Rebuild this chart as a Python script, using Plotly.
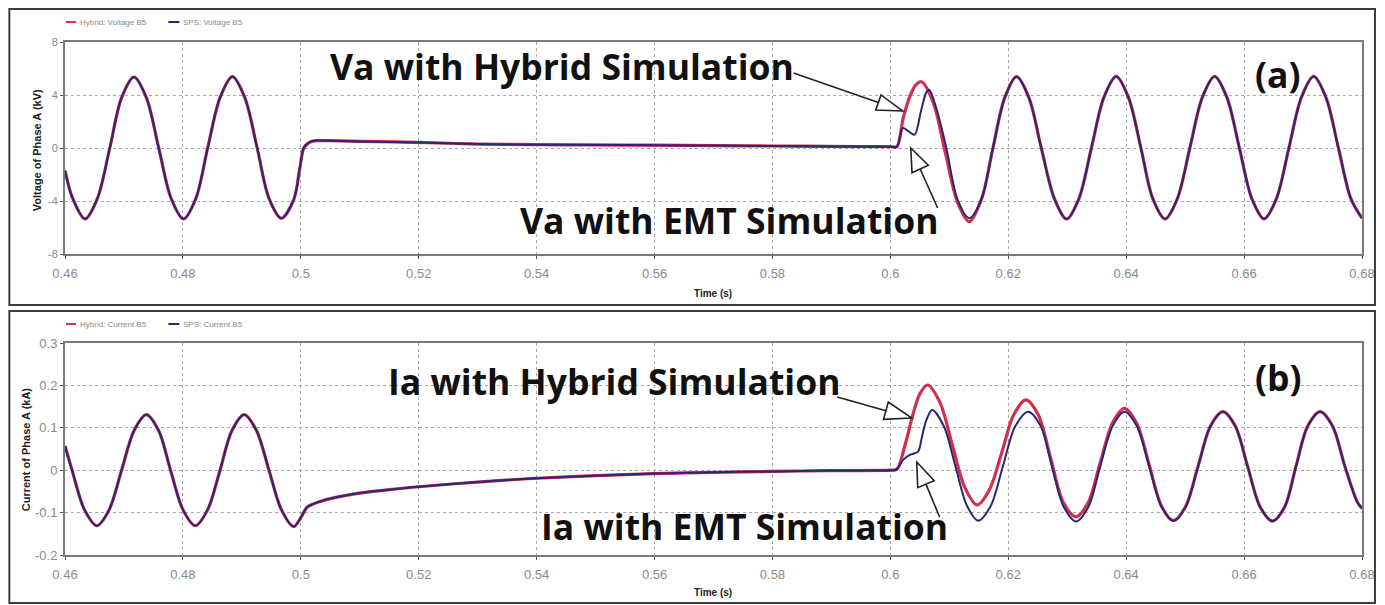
import plotly.graph_objects as go

# ---------------- data ----------------
# Phase A voltage (kV), common part before the fault clears (both simulations)
v_pre_t = [0.46, 0.4613, 0.4634, 0.4655, 0.4676, 0.4696, 0.4717, 0.4738, 0.4759, 0.4780,
           0.4801, 0.4822, 0.4842, 0.4863, 0.4884, 0.4905, 0.4926, 0.4946, 0.4967, 0.4988,
           0.4998, 0.5005, 0.5012, 0.5020, 0.5030, 0.5050, 0.510, 0.520, 0.530, 0.540,
           0.550, 0.560, 0.570, 0.580, 0.590, 0.600]
v_pre = [-1.7, -3.8, -5.35, -3.8, 0.0, 3.8, 5.35, 3.8, 0.0, -3.8,
         -5.35, -3.8, 0.0, 3.8, 5.38, 3.8, 0.0, -3.8, -5.3, -3.9,
         -1.6, 0.0, 0.35, 0.52, 0.56, 0.55, 0.50, 0.42, 0.30, 0.25,
         0.23, 0.21, 0.18, 0.15, 0.12, 0.10]

# after 0.6 s - hybrid simulation
v_hyb_t = [0.6011, 0.6022, 0.6034, 0.6044, 0.6053, 0.6073, 0.6093, 0.6114, 0.6134, 0.6155,
           0.6174, 0.6194, 0.6214, 0.6235, 0.6256, 0.6278, 0.6299, 0.6320, 0.6341, 0.6362,
           0.6383, 0.6404, 0.6425, 0.6445, 0.6466, 0.6487, 0.6508, 0.6529, 0.6550, 0.6571,
           0.6592, 0.6613, 0.6634, 0.6655, 0.6676, 0.6697, 0.6718, 0.6739, 0.6760, 0.6781, 0.6800]
v_hyb = [0.1, 2.3, 4.0, 4.8, 5.0, 3.4, -0.3, -4.1, -5.56, -3.8,
         0.0, 3.8, 5.38, 3.8, 0.0, -3.8, -5.36, -3.8, 0.0, 3.8,
         5.4, 3.8, 0.0, -3.8, -5.35, -3.8, 0.0, 3.8, 5.4, 3.8,
         0.0, -3.8, -5.35, -3.8, 0.0, 3.8, 5.4, 3.8, 0.0, -3.8, -5.3]

# after 0.6 s - EMT simulation
v_emt_t = [0.6011, 0.6021, 0.6030, 0.6041, 0.6052, 0.6061, 0.6066, 0.6078, 0.6095, 0.6114,
           0.6134, 0.6155, 0.6174, 0.6194, 0.6214, 0.6235, 0.6256, 0.6278, 0.6299, 0.6320,
           0.6341, 0.6362, 0.6383, 0.6404, 0.6425, 0.6445, 0.6466, 0.6487, 0.6508, 0.6529,
           0.6550, 0.6571, 0.6592, 0.6613, 0.6634, 0.6655, 0.6676, 0.6697, 0.6718, 0.6739,
           0.6760, 0.6781, 0.6800]
v_emt = [0.1, 1.5, 1.3, 1.0, 2.8, 4.2, 4.4, 3.0, 0.0, -3.9,
         -5.3, -3.8, 0.0, 3.8, 5.38, 3.8, 0.0, -3.8, -5.36, -3.8,
         0.0, 3.8, 5.4, 3.8, 0.0, -3.8, -5.35, -3.8, 0.0, 3.8,
         5.4, 3.8, 0.0, -3.8, -5.35, -3.8, 0.0, 3.8, 5.4, 3.8,
         0.0, -3.8, -5.3]

# Phase A current (kA), common part
i_pre_t = [0.46, 0.4612, 0.4633, 0.4654, 0.4675, 0.4696, 0.4717, 0.4738, 0.4759, 0.4779,
           0.4800, 0.4821, 0.4842, 0.4863, 0.4883, 0.4904, 0.4925, 0.4946, 0.4967, 0.4988,
           0.5000, 0.5010, 0.5017, 0.5030, 0.5050, 0.510, 0.515, 0.520, 0.530, 0.540,
           0.550, 0.560, 0.570, 0.580, 0.590, 0.600]
i_pre = [0.057, 0.0, -0.093, -0.131, -0.093, 0.0, 0.093, 0.131, 0.093, 0.0,
         -0.093, -0.131, -0.093, 0.0, 0.093, 0.131, 0.093, 0.0, -0.093, -0.133,
         -0.112, -0.088, -0.082, -0.075, -0.067, -0.054, -0.046, -0.039, -0.028, -0.019,
         -0.013, -0.008, -0.005, -0.003, -0.001, 0.0]

i_hyb_t = [0.6011, 0.6025, 0.6038, 0.6050, 0.6063, 0.6084, 0.6105, 0.6126, 0.6147, 0.6168,
           0.6189, 0.6209, 0.6230, 0.6251, 0.6272, 0.6293, 0.6315, 0.6336, 0.6356, 0.6377,
           0.6397, 0.6418, 0.6439, 0.6460, 0.6480, 0.6501, 0.6522, 0.6543, 0.6564, 0.6585,
           0.6606, 0.6627, 0.6648, 0.6669, 0.6688, 0.6708, 0.6729, 0.6750, 0.6771, 0.6792, 0.6800]
i_hyb = [0.002, 0.06, 0.13, 0.18, 0.201, 0.16, 0.06, -0.04, -0.082, -0.046,
         0.042, 0.13, 0.166, 0.13, 0.028, -0.075, -0.11, -0.075, 0.018, 0.112,
         0.146, 0.11, 0.013, -0.085, -0.119, -0.085, 0.01, 0.104, 0.138, 0.104,
         0.009, -0.086, -0.12, -0.086, 0.009, 0.104, 0.138, 0.104, 0.009, -0.075, -0.09]

i_emt_t = [0.6011, 0.6022, 0.6033, 0.6047, 0.6053, 0.6061, 0.6071, 0.6091, 0.6110, 0.6130,
           0.6149, 0.6170, 0.6191, 0.6212, 0.6234, 0.6255, 0.6274, 0.6294, 0.6315, 0.6336,
           0.6356, 0.6377, 0.6397, 0.6418, 0.6439, 0.6460, 0.6480, 0.6501, 0.6522, 0.6543,
           0.6564, 0.6585, 0.6606, 0.6627, 0.6648, 0.6669, 0.6688, 0.6708, 0.6729, 0.6750,
           0.6771, 0.6792, 0.6800]
i_emt = [0.002, 0.025, 0.036, 0.044, 0.075, 0.118, 0.142, 0.103, 0.011, -0.084,
         -0.119, -0.085, 0.01, 0.104, 0.138, 0.104, 0.009, -0.086, -0.121, -0.086,
         0.009, 0.104, 0.138, 0.104, 0.009, -0.086, -0.12, -0.086, 0.009, 0.104,
         0.138, 0.104, 0.009, -0.086, -0.12, -0.086, 0.009, 0.104, 0.138, 0.104,
         0.009, -0.075, -0.09]

x_ticks = [0.46, 0.48, 0.50, 0.52, 0.54, 0.56, 0.58, 0.60, 0.62, 0.64, 0.66, 0.68]
x_tick_labels = ["0.46", "0.48", "0.5", "0.52", "0.54", "0.56", "0.58", "0.6", "0.62", "0.64", "0.66", "0.68"]
v_ticks = [-8, -4, 0, 4, 8]
v_tick_labels = ["-8", "-4", "0", "4", "8"]
i_ticks = [-0.2, -0.1, 0, 0.1, 0.2, 0.3]
i_tick_labels = ["-0.2", "-0.1", "0", "0.1", "0.2", "0.3"]

# ---------------- layout helpers ----------------
# page body has an 8px margin and only ~1377px of width is visible
OFF = 8
VIS_W = 1377
W, H = VIS_W - OFF, 605 - OFF
LEFT, RIGHT = 65, 1362          # plot area edges on screen
KX = (RIGHT - LEFT) / 1305.0    # horizontal squeeze relative to the reference
ML, MR, MT = LEFT - OFF, (OFF + W) - RIGHT, 42 - OFF
MB = (H + OFF) - 555
PW, PH = W - ML - MR, H - MT - MB


def sx(x):  # reference pixel x -> screen pixel x
    return LEFT + (x - LEFT) * KX


def px(x):  # reference pixel x -> paper
    return (sx(x) - OFF - ML) / PW


def py(y):  # screen pixel y -> paper
    return (H - MB - (y - OFF)) / PH


RED = "#d0304e"
BLUE = "#2a2672"

fig = go.Figure()
fig.add_trace(go.Scatter(x=v_pre_t + v_hyb_t, y=v_pre + v_hyb, mode="lines",
                         line=dict(color=RED, width=3.2, shape="spline", smoothing=0.9),
                         xaxis="x", yaxis="y", name="Hybrid: Voltage B5", showlegend=False))
fig.add_trace(go.Scatter(x=v_pre_t + v_emt_t, y=v_pre + v_emt, mode="lines",
                         line=dict(color=BLUE, width=2.0, shape="spline", smoothing=0.9),
                         xaxis="x", yaxis="y", name="SPS: Voltage B5", showlegend=False))
fig.add_trace(go.Scatter(x=i_pre_t + i_hyb_t, y=i_pre + i_hyb, mode="lines",
                         line=dict(color=RED, width=3.2, shape="spline", smoothing=0.9),
                         xaxis="x2", yaxis="y2", name="Hybrid: Current B5", showlegend=False))
fig.add_trace(go.Scatter(x=i_pre_t + i_emt_t, y=i_pre + i_emt, mode="lines",
                         line=dict(color=BLUE, width=2.0, shape="spline", smoothing=0.9),
                         xaxis="x2", yaxis="y2", name="SPS: Current B5", showlegend=False))

top_dom = [py(254), py(42)]
bot_dom = [py(555), py(343)]

common_x = dict(range=[0.46, 0.68], tickvals=x_ticks, ticktext=x_tick_labels,
                showgrid=True, gridcolor="#a8a8a8", griddash="dot", gridwidth=1,
                showline=True, linecolor="#7a7a7a", linewidth=2, mirror=True,
                ticks="outside", ticklen=3, tickcolor="#555",
                tickfont=dict(family="Liberation Sans", size=13, color="#8a8a8a"),
                zeroline=False, domain=[0, 1], ticklabelstandoff=3, ticklabeloverflow="allow")
common_y = dict(showgrid=True, gridcolor="#a8a8a8", griddash="dot", gridwidth=1,
                showline=True, linecolor="#7a7a7a", linewidth=2, mirror=True,
                ticks="outside", ticklen=3, tickcolor="#555", zeroline=False)

fig.update_layout(
    width=W, height=H, margin=dict(l=ML, r=MR, t=MT, b=MB, autoexpand=False),
    paper_bgcolor="white", plot_bgcolor="white", showlegend=False,
    xaxis=dict(anchor="y", **common_x),
    xaxis2=dict(anchor="y2", **common_x),
    yaxis=dict(anchor="x", domain=top_dom, range=[-8, 8], tickvals=v_ticks, ticktext=v_tick_labels,
               tickfont=dict(family="Liberation Sans", size=11, color="#8a8a8a"), **common_y),
    yaxis2=dict(anchor="x2", domain=bot_dom, range=[-0.2, 0.3], tickvals=i_ticks, ticktext=i_tick_labels,
                tickfont=dict(family="Liberation Sans", size=13, color="#8a8a8a"), **common_y),
)

shapes = []
annotations = []

# outer panel frames
FR = (VIS_W - 2 - OFF - ML) / PW
for (y0, y1) in [(9, 305), (311, 603)]:
    shapes.append(dict(type="rect", xref="paper", yref="paper",
                       x0=px(9), x1=FR, y0=py(y1), y1=py(y0),
                       line=dict(color="#3c3c3c", width=2)))

# small legends
legend_rows = [(22, "Hybrid: Voltage B5", "SPS: Voltage B5"),
               (324, "Hybrid: Current B5", "SPS: Current B5")]
for (ly, t1, t2) in legend_rows:
    shapes.append(dict(type="line", xref="paper", yref="paper", x0=px(66), x1=px(76), y0=py(ly), y1=py(ly),
                       line=dict(color=RED, width=2)))
    shapes.append(dict(type="line", xref="paper", yref="paper", x0=px(169), x1=px(180), y0=py(ly), y1=py(ly),
                       line=dict(color=BLUE, width=2)))
    annotations.append(dict(xref="paper", yref="paper", x=px(78), y=py(ly), text=t1, showarrow=False,
                            xanchor="left", yanchor="middle",
                            font=dict(family="Liberation Sans", size=8, color="#8a8a8a")))
    annotations.append(dict(xref="paper", yref="paper", x=px(182), y=py(ly), text=t2, showarrow=False,
                            xanchor="left", yanchor="middle",
                            font=dict(family="Liberation Sans", size=8, color="#8a8a8a")))

# axis titles
for (tx, ty, txt) in [(37, 150, "Voltage of Phase A (kV)"), (26, 449, "Current of Phase A (kA)")]:
    annotations.append(dict(xref="paper", yref="paper", x=px(tx), y=py(ty), text=txt, showarrow=False,
                            textangle=-90, xanchor="center", yanchor="middle",
                            font=dict(family="Liberation Sans", size=11, color="#222", weight="bold")))
for ty in [293, 593]:
    annotations.append(dict(xref="paper", yref="paper", x=px(717), y=py(ty), text="Time (s)", showarrow=False,
                            xanchor="center", yanchor="middle",
                            font=dict(family="Liberation Sans", size=10, color="#222", weight="bold")))

# big labels
BIG = dict(family="Open Sans", size=35.5, color="#111", weight="bold")
for (lx, ly, txt) in [(330, 66, "Va with Hybrid Simulation"), (521, 220, "Va with EMT Simulation"),
                      (388, 381, "Ia with Hybrid Simulation"), (542, 526, "Ia with EMT Simulation")]:
    annotations.append(dict(xref="paper", yref="paper", x=px(lx), y=py(ly), text=txt, showarrow=False,
                            xanchor="left", yanchor="middle", font=BIG))
for (lx, ly, txt) in [(1285, 74, "(a)"), (1286, 377, "(b)")]:
    annotations.append(dict(xref="paper", yref="paper", x=px(lx), y=py(ly), text=txt, showarrow=False,
                            xanchor="center", yanchor="middle", font=BIG))


# hollow-head arrows (reference pixel coordinates)
def hollow_arrow(tail, tip, head_len, half_w):
    dx, dy = tip[0] - tail[0], tip[1] - tail[1]
    n = (dx * dx + dy * dy) ** 0.5
    ux, uy = dx / n, dy / n
    bx, by = tip[0] - ux * head_len, tip[1] - uy * head_len
    pxp, pyp = -uy, ux
    v1 = (bx + pxp * half_w, by + pyp * half_w)
    v2 = (bx - pxp * half_w, by - pyp * half_w)
    shapes.append(dict(type="line", xref="paper", yref="paper",
                       x0=px(tail[0]), y0=py(tail[1]), x1=px(bx), y1=py(by),
                       line=dict(color="#222", width=1.6)))
    path = "M {} {} L {} {} L {} {} Z".format(px(tip[0]), py(tip[1]), px(v1[0]), py(v1[1]),
                                               px(v2[0]), py(v2[1]))
    shapes.append(dict(type="path", xref="paper", yref="paper", path=path,
                       fillcolor="white", line=dict(color="#222", width=1.6)))


hollow_arrow((798, 73), (908, 111), 26, 8)
hollow_arrow((943, 208), (916, 148), 23, 9)
hollow_arrow((842, 397), (917, 418), 27, 9)
hollow_arrow((945, 517), (922, 462), 24, 9)

fig.update_layout(shapes=shapes, annotations=annotations)
fig.write_html("out.html")
